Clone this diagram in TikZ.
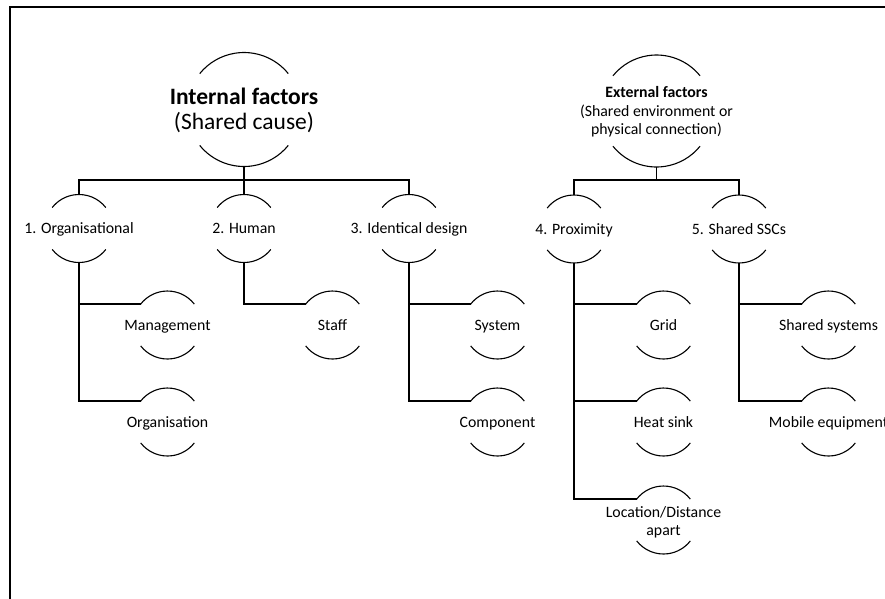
\documentclass[tikz,border=0pt]{standalone}
\usepackage{fontspec}
\setmainfont{Carlito}
\begin{document}
\begin{tikzpicture}[x=1pt,y=-1pt]
\tikzset{
  arcnode/.style={circle, minimum size=#1, inner sep=0pt, outer sep=0pt},
  lbl/.style={font=\fontsize{15.8}{18}\selectfont, align=center, inner sep=0pt, text height=0.7em, text depth=0.2em, yshift=-2.5pt},
  mlbl/.style={font=\fontsize{15.8}{17.5}\selectfont, align=center, inner sep=0pt, yshift=-2.5pt},
  biglbl/.style={font=\fontsize{23.5}{25}\selectfont, align=center, inner sep=0pt, yshift=-1pt},
  extlbl/.style={font=\fontsize{15.8}{18.5}\selectfont, align=center, inner sep=0pt, yshift=-1pt},
  conn/.style={line width=1.2pt},
  arcline/.style={line width=1.1pt},
  frameline/.style={line width=2pt}
}
\useasboundingbox (0,0) rectangle (885,598);
\draw[frameline] (10,600) -- (10,6.8) -- (887,6.8);

% main nodes
\node[arcnode=114pt, label={[biglbl]center:\textbf{Internal factors}\\(Shared cause)}] (int) at (244,109.5) {};
\node[arcnode=112pt, label={[extlbl]center:\textbf{External factors}\\(Shared environment or\\physical connection)}] (ext) at (656.5,111) {};

% level 1
\node[arcnode=68pt, label={[lbl]center:1. Organisational}] (org) at (79,228.5) {};
\node[arcnode=68pt, label={[lbl]center:2. Human}] (hum) at (244,228.5) {};
\node[arcnode=68pt, label={[lbl]center:3. Identical design}] (idd) at (409,228.5) {};
\node[arcnode=68pt, label={[lbl]center:4. Proximity}] (prox) at (574,229) {};
\node[arcnode=68pt, label={[lbl]center:5. Shared SSCs}] (sscs) at (739,229) {};

% level 2
\node[arcnode=68pt, label={[lbl]center:Management}] (mgmt) at (167.5,325) {};
\node[arcnode=68pt, label={[lbl]center:Organisation}] (orgn) at (167.5,422) {};
\node[arcnode=68pt, label={[lbl]center:Staff}] (staff) at (332.5,325) {};
\node[arcnode=68pt, label={[lbl]center:System}] (sys) at (497.5,325) {};
\node[arcnode=68pt, label={[lbl]center:Component}] (comp) at (497.5,422) {};
\node[arcnode=68pt, label={[lbl]center:Grid}] (grid) at (663.5,325) {};
\node[arcnode=68pt, label={[lbl]center:Heat sink}] (heat) at (663.5,422) {};
\node[arcnode=68pt, label={[mlbl]center:Location/Distance\\apart}] (loc) at (663.5,520) {};
\node[arcnode=68pt, label={[lbl]center:Shared systems}] (shsys) at (828.5,325) {};
\node[arcnode=68pt, label={[lbl]center:Mobile equipment}] (mob) at (828.5,422) {};

% arcs
\foreach \n/\r/\a [evaluate=\a as \b using int(180-\a), evaluate=\a as \c using int(180+\a), evaluate=\a as \d using int(360-\a)] in
  {int/57/39, ext/56/39, org/34/38, hum/34/38, idd/34/38, prox/34/38, sscs/34/38,
   mgmt/34/38, orgn/34/38, staff/34/38, sys/34/38, comp/34/38, grid/34/38,
   heat/34/38, loc/34/38, shsys/34/38, mob/34/38}
  \draw[arcline] (\n.\a) arc[start angle=\a, end angle=\b, radius=\r pt]
                 (\n.\c) arc[start angle=\c, end angle=\d, radius=\r pt];

% bus connectors
\coordinate (ibus) at (244,180);
\coordinate (ebus) at (656.5,180);
\draw[conn] (int.south) -- (ibus);
\draw[conn] (org.north) |- (ibus);
\draw[conn] (idd.north) |- (ibus);
\draw[conn] (hum.north) -- (ibus);
\draw[conn] (ext.south) -- (ebus);
\draw[conn] (prox.north) |- (ebus);
\draw[conn] (sscs.north) |- (ebus);

% sub connectors
\draw[conn] (org.south) |- (mgmt.142);
\draw[conn] (org.south) |- (orgn.142);
\draw[conn] (hum.south) |- (staff.142);
\draw[conn] (idd.south) |- (sys.142);
\draw[conn] (idd.south) |- (comp.142);
\draw[conn] (prox.south) |- (grid.142);
\draw[conn] (prox.south) |- (heat.142);
\draw[conn] (prox.south) |- (loc.142);
\draw[conn] (sscs.south) |- (shsys.142);
\draw[conn] (sscs.south) |- (mob.142);
\end{tikzpicture}
\end{document}
